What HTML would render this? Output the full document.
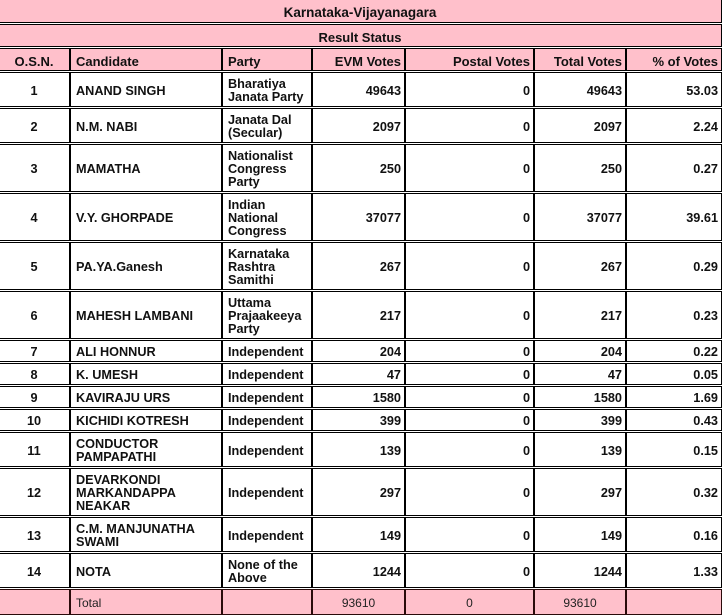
<!DOCTYPE html>
<html>
<head>
<meta charset="utf-8">
<style>
html,body{margin:0;padding:0;background:#fff;}
body{width:723px;height:613px;position:relative;overflow:hidden;}
.c{position:absolute;box-sizing:border-box;border:1px solid #000;display:flex;align-items:center;padding:3px 3px 0 5px;font:bold 12.7px/13px "Liberation Sans",sans-serif;color:#111;background:#fff;white-space:nowrap;overflow:hidden;}
.p{background:#FFC0CB;}
.m{justify-content:center;padding-left:3px;}
.r{justify-content:flex-end;}
.h{font-size:13px;}
.t{font-size:13.5px;}
.tot{font:normal 12px/13px "Liberation Sans Narrow","Liberation Sans",sans-serif;color:#222;border-color:#2a0a0a;}
</style>
</head>
<body>
<div class="c p m t" style="left:-2px;top:-1px;width:724px;height:24px;"><div>Karnataka-Vijayanagara</div></div>
<div class="c p m h" style="left:-2px;top:24px;width:724px;height:23px;"><div>Result Status</div></div>

<div class="c p m h" style="left:-2px;top:48px;width:72px;height:23px;"><div>O.S.N.</div></div>
<div class="c p h" style="left:70px;top:48px;width:152px;height:23px;"><div>Candidate</div></div>
<div class="c p h" style="left:222px;top:48px;width:90px;height:23px;"><div>Party</div></div>
<div class="c p r h" style="left:312px;top:48px;width:93px;height:23px;"><div>EVM Votes</div></div>
<div class="c p r h" style="left:405px;top:48px;width:129px;height:23px;"><div>Postal Votes</div></div>
<div class="c p r h" style="left:534px;top:48px;width:92px;height:23px;"><div>Total Votes</div></div>
<div class="c p r h" style="left:626px;top:48px;width:96px;height:23px;"><div>% of Votes</div></div>

<!-- row 1 -->
<div class="c m" style="left:-2px;top:72px;width:72px;height:35px;"><div>1</div></div>
<div class="c" style="left:70px;top:72px;width:152px;height:35px;"><div>ANAND SINGH</div></div>
<div class="c" style="left:222px;top:72px;width:90px;height:35px;"><div>Bharatiya<br>Janata Party</div></div>
<div class="c r" style="left:312px;top:72px;width:93px;height:35px;"><div>49643</div></div>
<div class="c r" style="left:405px;top:72px;width:129px;height:35px;"><div>0</div></div>
<div class="c r" style="left:534px;top:72px;width:92px;height:35px;"><div>49643</div></div>
<div class="c r" style="left:626px;top:72px;width:96px;height:35px;"><div>53.03</div></div>

<!-- row 2 -->
<div class="c m" style="left:-2px;top:108px;width:72px;height:35px;"><div>2</div></div>
<div class="c" style="left:70px;top:108px;width:152px;height:35px;"><div>N.M. NABI</div></div>
<div class="c" style="left:222px;top:108px;width:90px;height:35px;"><div>Janata Dal<br>(Secular)</div></div>
<div class="c r" style="left:312px;top:108px;width:93px;height:35px;"><div>2097</div></div>
<div class="c r" style="left:405px;top:108px;width:129px;height:35px;"><div>0</div></div>
<div class="c r" style="left:534px;top:108px;width:92px;height:35px;"><div>2097</div></div>
<div class="c r" style="left:626px;top:108px;width:96px;height:35px;"><div>2.24</div></div>

<!-- row 3 -->
<div class="c m" style="left:-2px;top:144px;width:72px;height:48px;"><div>3</div></div>
<div class="c" style="left:70px;top:144px;width:152px;height:48px;"><div>MAMATHA</div></div>
<div class="c" style="left:222px;top:144px;width:90px;height:48px;"><div>Nationalist<br>Congress<br>Party</div></div>
<div class="c r" style="left:312px;top:144px;width:93px;height:48px;"><div>250</div></div>
<div class="c r" style="left:405px;top:144px;width:129px;height:48px;"><div>0</div></div>
<div class="c r" style="left:534px;top:144px;width:92px;height:48px;"><div>250</div></div>
<div class="c r" style="left:626px;top:144px;width:96px;height:48px;"><div>0.27</div></div>

<!-- row 4 -->
<div class="c m" style="left:-2px;top:193px;width:72px;height:48px;"><div>4</div></div>
<div class="c" style="left:70px;top:193px;width:152px;height:48px;"><div>V.Y. GHORPADE</div></div>
<div class="c" style="left:222px;top:193px;width:90px;height:48px;"><div>Indian<br>National<br>Congress</div></div>
<div class="c r" style="left:312px;top:193px;width:93px;height:48px;"><div>37077</div></div>
<div class="c r" style="left:405px;top:193px;width:129px;height:48px;"><div>0</div></div>
<div class="c r" style="left:534px;top:193px;width:92px;height:48px;"><div>37077</div></div>
<div class="c r" style="left:626px;top:193px;width:96px;height:48px;"><div>39.61</div></div>

<!-- row 5 -->
<div class="c m" style="left:-2px;top:242px;width:72px;height:48px;"><div>5</div></div>
<div class="c" style="left:70px;top:242px;width:152px;height:48px;"><div>PA.YA.Ganesh</div></div>
<div class="c" style="left:222px;top:242px;width:90px;height:48px;"><div>Karnataka<br>Rashtra<br>Samithi</div></div>
<div class="c r" style="left:312px;top:242px;width:93px;height:48px;"><div>267</div></div>
<div class="c r" style="left:405px;top:242px;width:129px;height:48px;"><div>0</div></div>
<div class="c r" style="left:534px;top:242px;width:92px;height:48px;"><div>267</div></div>
<div class="c r" style="left:626px;top:242px;width:96px;height:48px;"><div>0.29</div></div>

<!-- row 6 -->
<div class="c m" style="left:-2px;top:291px;width:72px;height:48px;"><div>6</div></div>
<div class="c" style="left:70px;top:291px;width:152px;height:48px;"><div>MAHESH LAMBANI</div></div>
<div class="c" style="left:222px;top:291px;width:90px;height:48px;"><div>Uttama<br>Prajaakeeya<br>Party</div></div>
<div class="c r" style="left:312px;top:291px;width:93px;height:48px;"><div>217</div></div>
<div class="c r" style="left:405px;top:291px;width:129px;height:48px;"><div>0</div></div>
<div class="c r" style="left:534px;top:291px;width:92px;height:48px;"><div>217</div></div>
<div class="c r" style="left:626px;top:291px;width:96px;height:48px;"><div>0.23</div></div>

<!-- row 7 -->
<div class="c m" style="left:-2px;top:340px;width:72px;height:22px;"><div>7</div></div>
<div class="c" style="left:70px;top:340px;width:152px;height:22px;"><div>ALI HONNUR</div></div>
<div class="c" style="left:222px;top:340px;width:90px;height:22px;"><div>Independent</div></div>
<div class="c r" style="left:312px;top:340px;width:93px;height:22px;"><div>204</div></div>
<div class="c r" style="left:405px;top:340px;width:129px;height:22px;"><div>0</div></div>
<div class="c r" style="left:534px;top:340px;width:92px;height:22px;"><div>204</div></div>
<div class="c r" style="left:626px;top:340px;width:96px;height:22px;"><div>0.22</div></div>

<!-- row 8 -->
<div class="c m" style="left:-2px;top:363px;width:72px;height:22px;"><div>8</div></div>
<div class="c" style="left:70px;top:363px;width:152px;height:22px;"><div>K. UMESH</div></div>
<div class="c" style="left:222px;top:363px;width:90px;height:22px;"><div>Independent</div></div>
<div class="c r" style="left:312px;top:363px;width:93px;height:22px;"><div>47</div></div>
<div class="c r" style="left:405px;top:363px;width:129px;height:22px;"><div>0</div></div>
<div class="c r" style="left:534px;top:363px;width:92px;height:22px;"><div>47</div></div>
<div class="c r" style="left:626px;top:363px;width:96px;height:22px;"><div>0.05</div></div>

<!-- row 9 -->
<div class="c m" style="left:-2px;top:386px;width:72px;height:22px;"><div>9</div></div>
<div class="c" style="left:70px;top:386px;width:152px;height:22px;"><div>KAVIRAJU URS</div></div>
<div class="c" style="left:222px;top:386px;width:90px;height:22px;"><div>Independent</div></div>
<div class="c r" style="left:312px;top:386px;width:93px;height:22px;"><div>1580</div></div>
<div class="c r" style="left:405px;top:386px;width:129px;height:22px;"><div>0</div></div>
<div class="c r" style="left:534px;top:386px;width:92px;height:22px;"><div>1580</div></div>
<div class="c r" style="left:626px;top:386px;width:96px;height:22px;"><div>1.69</div></div>

<!-- row 10 -->
<div class="c m" style="left:-2px;top:409px;width:72px;height:22px;"><div>10</div></div>
<div class="c" style="left:70px;top:409px;width:152px;height:22px;"><div>KICHIDI KOTRESH</div></div>
<div class="c" style="left:222px;top:409px;width:90px;height:22px;"><div>Independent</div></div>
<div class="c r" style="left:312px;top:409px;width:93px;height:22px;"><div>399</div></div>
<div class="c r" style="left:405px;top:409px;width:129px;height:22px;"><div>0</div></div>
<div class="c r" style="left:534px;top:409px;width:92px;height:22px;"><div>399</div></div>
<div class="c r" style="left:626px;top:409px;width:96px;height:22px;"><div>0.43</div></div>

<!-- row 11 -->
<div class="c m" style="left:-2px;top:432px;width:72px;height:35px;"><div>11</div></div>
<div class="c" style="left:70px;top:432px;width:152px;height:35px;"><div>CONDUCTOR<br>PAMPAPATHI</div></div>
<div class="c" style="left:222px;top:432px;width:90px;height:35px;"><div>Independent</div></div>
<div class="c r" style="left:312px;top:432px;width:93px;height:35px;"><div>139</div></div>
<div class="c r" style="left:405px;top:432px;width:129px;height:35px;"><div>0</div></div>
<div class="c r" style="left:534px;top:432px;width:92px;height:35px;"><div>139</div></div>
<div class="c r" style="left:626px;top:432px;width:96px;height:35px;"><div>0.15</div></div>

<!-- row 12 -->
<div class="c m" style="left:-2px;top:468px;width:72px;height:48px;"><div>12</div></div>
<div class="c" style="left:70px;top:468px;width:152px;height:48px;"><div>DEVARKONDI<br>MARKANDAPPA<br>NEAKAR</div></div>
<div class="c" style="left:222px;top:468px;width:90px;height:48px;"><div>Independent</div></div>
<div class="c r" style="left:312px;top:468px;width:93px;height:48px;"><div>297</div></div>
<div class="c r" style="left:405px;top:468px;width:129px;height:48px;"><div>0</div></div>
<div class="c r" style="left:534px;top:468px;width:92px;height:48px;"><div>297</div></div>
<div class="c r" style="left:626px;top:468px;width:96px;height:48px;"><div>0.32</div></div>

<!-- row 13 -->
<div class="c m" style="left:-2px;top:517px;width:72px;height:35px;"><div>13</div></div>
<div class="c" style="left:70px;top:517px;width:152px;height:35px;"><div>C.M. MANJUNATHA<br>SWAMI</div></div>
<div class="c" style="left:222px;top:517px;width:90px;height:35px;"><div>Independent</div></div>
<div class="c r" style="left:312px;top:517px;width:93px;height:35px;"><div>149</div></div>
<div class="c r" style="left:405px;top:517px;width:129px;height:35px;"><div>0</div></div>
<div class="c r" style="left:534px;top:517px;width:92px;height:35px;"><div>149</div></div>
<div class="c r" style="left:626px;top:517px;width:96px;height:35px;"><div>0.16</div></div>

<!-- row 14 -->
<div class="c m" style="left:-2px;top:553px;width:72px;height:35px;"><div>14</div></div>
<div class="c" style="left:70px;top:553px;width:152px;height:35px;"><div>NOTA</div></div>
<div class="c" style="left:222px;top:553px;width:90px;height:35px;"><div>None of the<br>Above</div></div>
<div class="c r" style="left:312px;top:553px;width:93px;height:35px;"><div>1244</div></div>
<div class="c r" style="left:405px;top:553px;width:129px;height:35px;"><div>0</div></div>
<div class="c r" style="left:534px;top:553px;width:92px;height:35px;"><div>1244</div></div>
<div class="c r" style="left:626px;top:553px;width:96px;height:35px;"><div>1.33</div></div>

<!-- total -->
<div class="c p tot" style="left:-2px;top:589px;width:72px;height:26px;"><div></div></div>
<div class="c p tot" style="left:70px;top:589px;width:152px;height:26px;"><div>Total</div></div>
<div class="c p tot" style="left:222px;top:589px;width:90px;height:26px;"><div></div></div>
<div class="c p tot m" style="left:312px;top:589px;width:93px;height:26px;"><div>93610</div></div>
<div class="c p tot m" style="left:405px;top:589px;width:129px;height:26px;"><div>0</div></div>
<div class="c p tot m" style="left:534px;top:589px;width:92px;height:26px;"><div>93610</div></div>
<div class="c p tot" style="left:626px;top:589px;width:96px;height:26px;"><div></div></div>
</body>
</html>
